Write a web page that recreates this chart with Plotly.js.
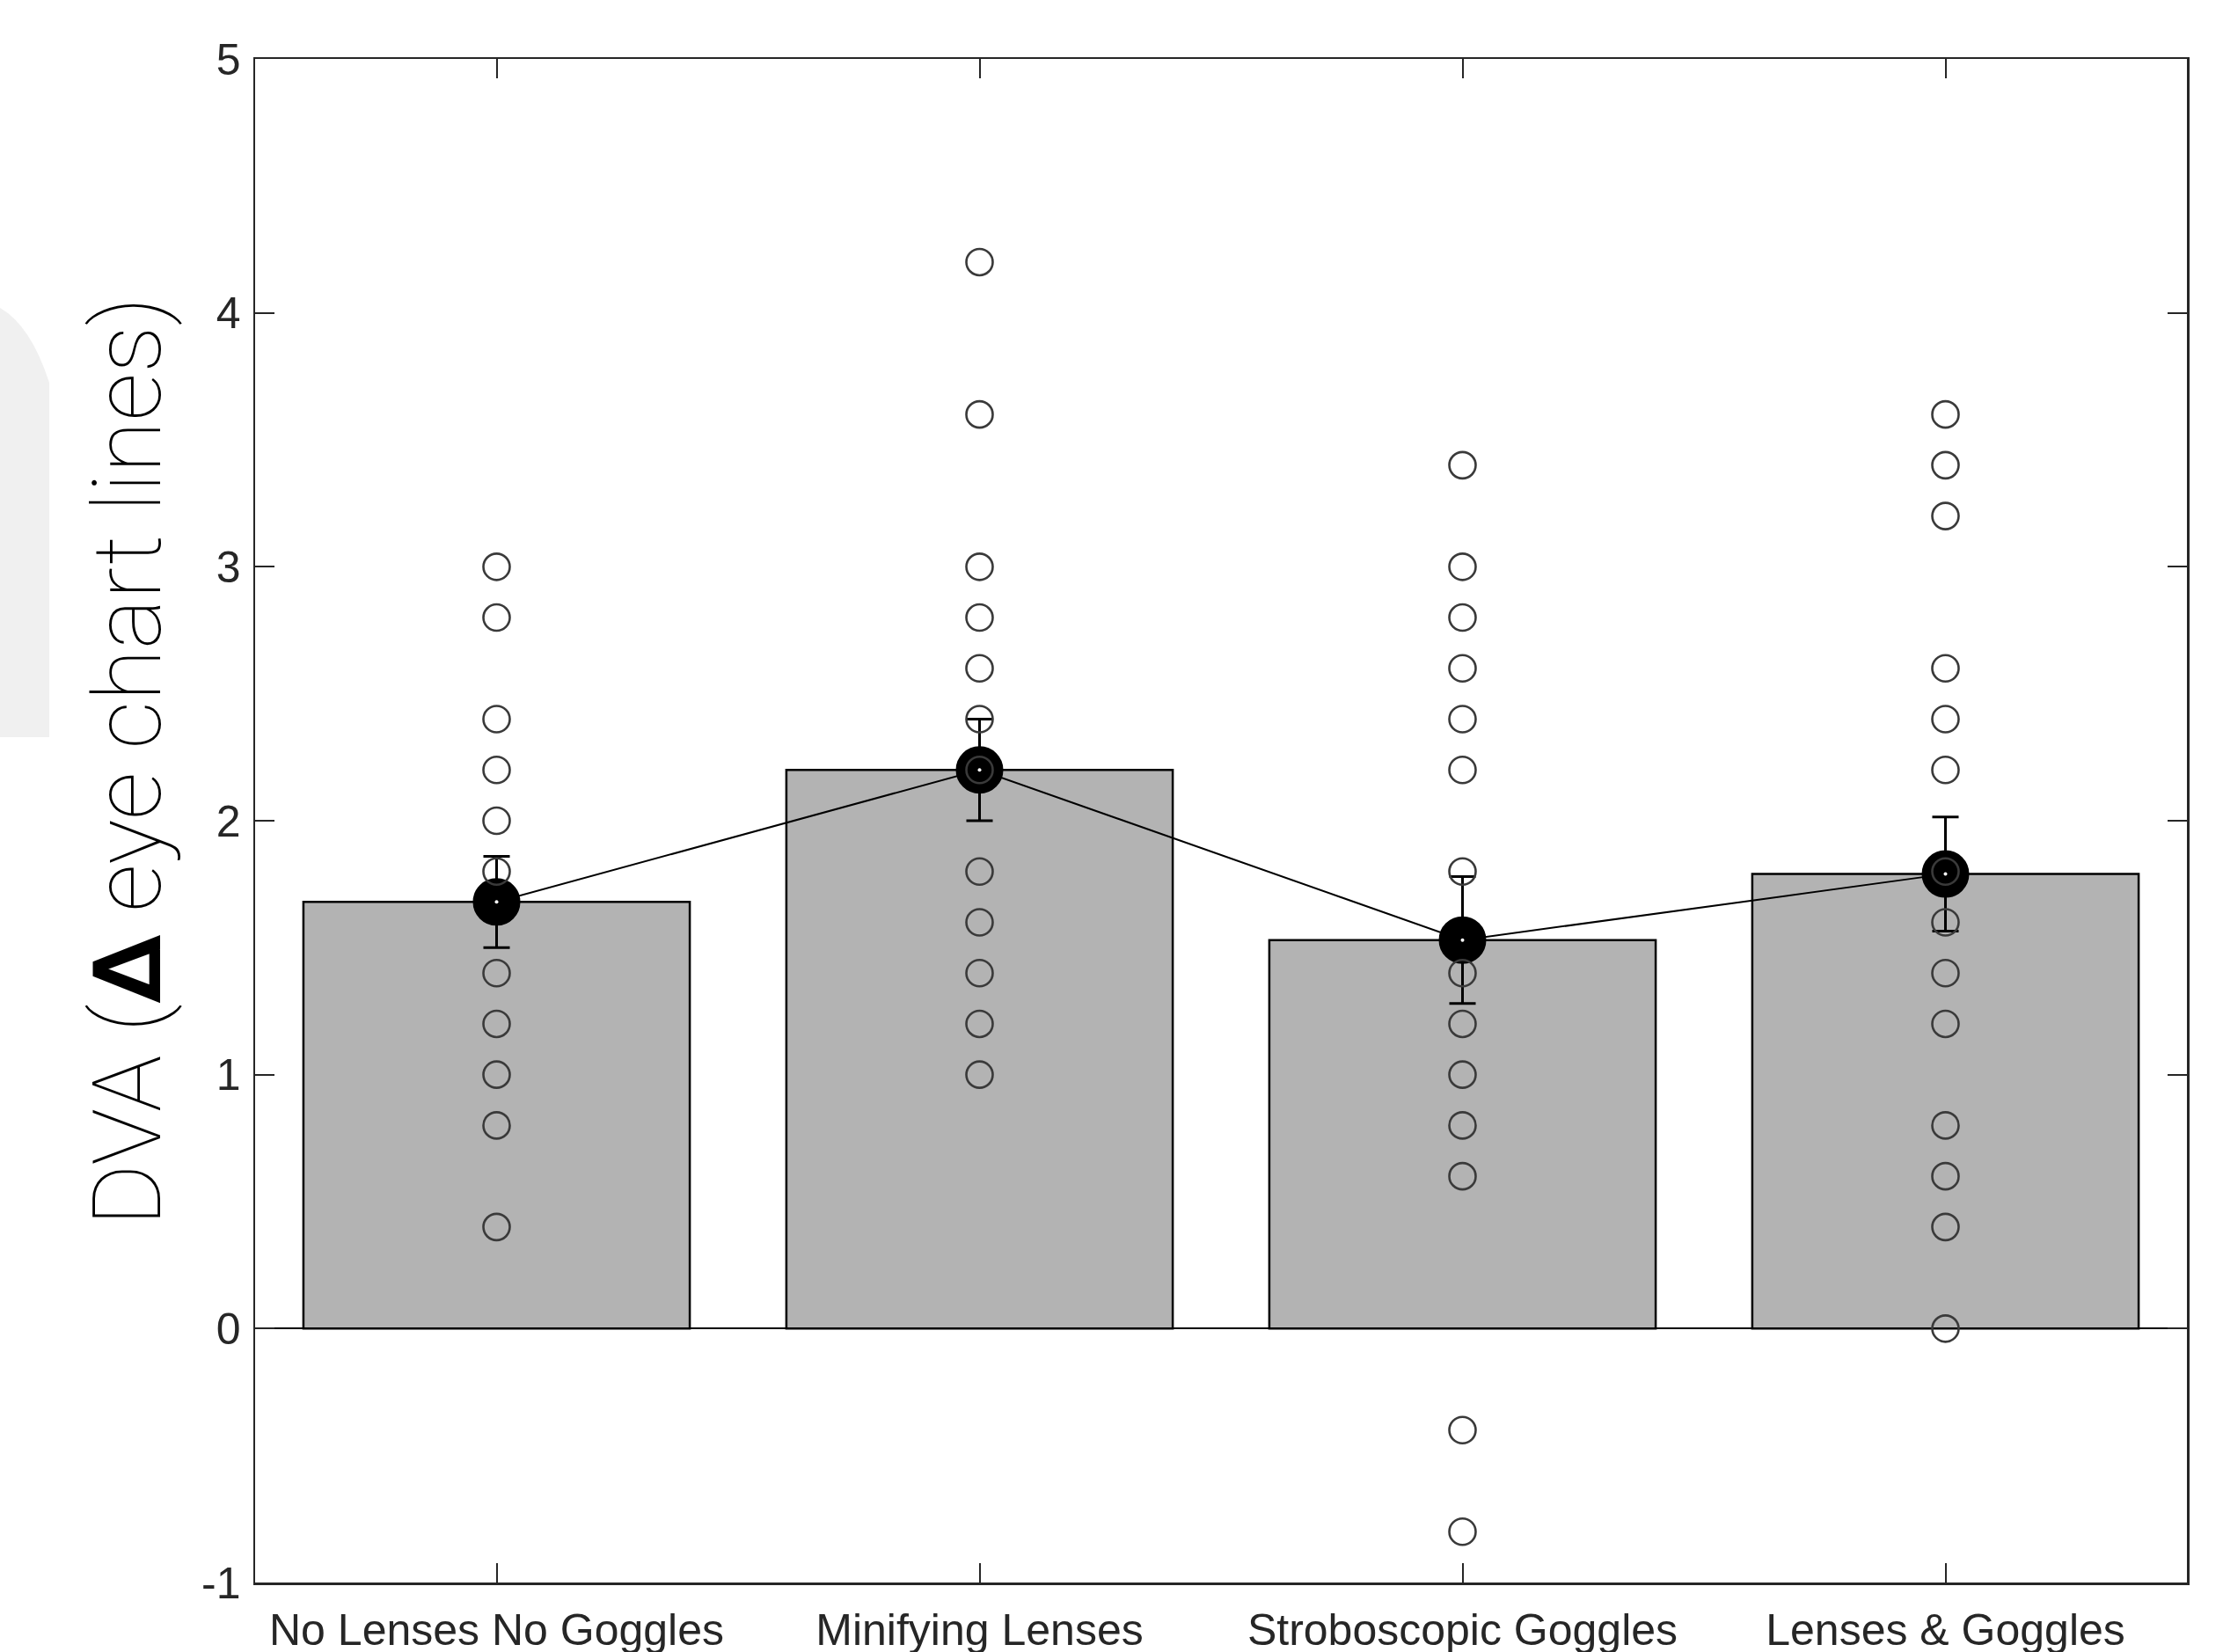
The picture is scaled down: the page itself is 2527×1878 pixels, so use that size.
<!DOCTYPE html>
<html>
<head>
<meta charset="utf-8">
<script src="https://cdn.plot.ly/plotly-3.0.1.min.js"></script>
<style>
  html, body { margin: 0; padding: 0; background: #ffffff; }
  #chart { width: 2527px; height: 1878px; }
</style>
</head>
<body>
<div id="chart"></div>
<script>
// Experimental conditions (x categories)
const conditions = ["No Lenses No Goggles", "Minifying Lenses", "Stroboscopic Goggles", "Lenses & Goggles"];

// Group mean change in dynamic visual acuity and its standard error
const meanDVA = [1.68, 2.20, 1.53, 1.79];
const semDVA = [0.18, 0.20, 0.25, 0.225];

// Individual subject scores per condition
const noLensesNoGoggles = [3.0, 2.8, 2.4, 2.2, 2.0, 1.8, 1.4, 1.2, 1.0, 0.8, 0.4];
const minifyingLenses = [4.2, 3.6, 3.0, 2.8, 2.6, 2.4, 2.2, 1.8, 1.6, 1.4, 1.2, 1.0];
const stroboscopicGoggles = [3.4, 3.0, 2.8, 2.6, 2.4, 2.2, 1.8, 1.4, 1.2, 1.0, 0.8, 0.6, -0.4, -0.8];
const lensesAndGoggles = [3.6, 3.4, 3.2, 2.6, 2.4, 2.2, 1.8, 1.6, 1.4, 1.2, 0.8, 0.6, 0.4, 0.0];

// y-axis ticks
const yTickValues = [-1, 0, 1, 2, 3, 4, 5];
const yTickLabels = ["-1", "0", "1", "2", "3", "4", "5"];

const subjectGroups = [noLensesNoGoggles, minifyingLenses, stroboscopicGoggles, lensesAndGoggles];

const W = 2527, H = 1878;
const M = { l: 290, r: 41, t: 67, b: 79 };
const plotW = W - M.l - M.r, plotH = H - M.t - M.b;
const px = x => (x - M.l) / plotW;         // pixel x -> paper x
const py = y => (H - M.b - y) / plotH;     // pixel y -> paper y

const axisColor = "#262626";

const traces = [];

// Bars of condition means
traces.push({
  type: "bar",
  x: conditions,
  y: meanDVA,
  width: 0.8,
  marker: { color: "#b3b3b3", line: { color: "#000000", width: 2.5 } },
  hoverinfo: "skip",
  showlegend: false
});

// Mean line with standard-error bars
traces.push({
  type: "scatter",
  mode: "lines+markers",
  x: conditions,
  y: meanDVA,
  line: { color: "#000000", width: 2 },
  marker: { color: "#000000", size: 52, symbol: "circle", line: { color: "#000000", width: 2 } },
  error_y: { type: "data", array: semDVA, visible: true, color: "#000000", thickness: 3, width: 15 },
  showlegend: false
});

// Small open centre of each mean marker
traces.push({
  type: "scatter",
  mode: "markers",
  x: conditions,
  y: meanDVA,
  marker: { color: "#ffffff", size: 4, symbol: "circle" },
  showlegend: false
});

// Individual subjects as open circles
subjectGroups.forEach((vals, i) => {
  traces.push({
    type: "scatter",
    mode: "markers",
    x: vals.map(() => conditions[i]),
    y: vals,
    marker: { symbol: "circle-open", size: 30, color: "#3a3a3a", line: { width: 2.6, color: "#3a3a3a" } },
    showlegend: false
  });
});

// Faint light-grey backdrop at the far left edge
const blob = "M " + px(0) + " " + py(350) +
  " Q " + px(35) + " " + py(370) + " " + px(56) + " " + py(435) +
  " L " + px(56) + " " + py(838) +
  " L " + px(0) + " " + py(838) + " Z";

const layout = {
  width: W,
  height: H,
  margin: M,
  paper_bgcolor: "#ffffff",
  plot_bgcolor: "#ffffff",
  showlegend: false,
  bargap: 0.2,
  font: { family: "Liberation Sans, Arial, sans-serif", color: axisColor },
  xaxis: {
    type: "category",
    range: [-0.5, 3.5],
    showline: true,
    linecolor: axisColor,
    linewidth: 2.5,
    mirror: "ticks",
    ticks: "inside",
    ticklen: 22,
    tickwidth: 2,
    tickcolor: axisColor,
    ticklabelstandoff: 8,
    showgrid: false,
    zeroline: false,
    tickfont: { size: 50, color: axisColor, family: "Liberation Sans, Arial, sans-serif" },
    fixedrange: true
  },
  yaxis: {
    range: [-1, 5],
    tickvals: yTickValues,
    ticktext: yTickLabels,
    showline: true,
    linecolor: axisColor,
    linewidth: 2.5,
    mirror: "ticks",
    ticks: "inside",
    ticklen: 22,
    tickwidth: 2,
    tickcolor: axisColor,
    ticklabelstandoff: 4,
    showgrid: false,
    zeroline: true,
    zerolinecolor: "#000000",
    zerolinewidth: 2,
    tickfont: { size: 50, color: axisColor, family: "Liberation Sans, Arial, sans-serif" },
    fixedrange: true
  },
  shapes: [
    {
      type: "path",
      xref: "paper",
      yref: "paper",
      path: blob,
      fillcolor: "#f0f0f0",
      line: { width: 0 },
      layer: "below"
    }
  ],
  annotations: [
    {
      xref: "paper",
      yref: "paper",
      x: px(145),
      y: py(866),
      xanchor: "center",
      yanchor: "middle",
      textangle: -90,
      showarrow: false,
      text: "DVA (<b>Δ</b> eye chart lines)",
      font: { family: "Roboto, sans-serif", weight: 100, size: 108, color: "#000000" }
    }
  ]
};

Plotly.newPlot("chart", traces, layout, { displayModeBar: false, staticPlot: true });
</script>
</body>
</html>
